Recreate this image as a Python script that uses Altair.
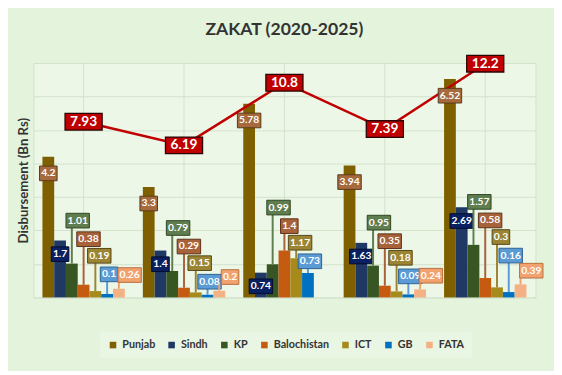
import altair as alt
import pandas as pd

# ---------------- data ----------------
years = ["2020-21", "2021-22", "2022-23", "2023-24", "2024-25"]
series = ["Punjab", "Sindh", "KP", "Balochistan", "ICT", "GB", "FATA"]
punjab = [4.2, 3.3, 5.78, 3.94, 6.52]
sindh = [1.7, 1.4, 0.74, 1.63, 2.69]
kp = [1.01, 0.79, 0.99, 0.95, 1.57]
balochistan = [0.38, 0.29, 1.4, 0.35, 0.58]
ict = [0.19, 0.15, 1.17, 0.18, 0.3]
gb = [0.1, 0.08, 0.73, 0.09, 0.16]
fata = [0.26, 0.2, None, 0.24, 0.39]
total = [7.93, 6.19, 10.8, 7.39, 12.2]

# ---------------- styles ----------------
FONT = "Lato"
GRID = "#d3e2cc"
bar_colors = ["#7f6000", "#203864", "#375623", "#c55a11", "#a68b1c", "#0070c0", "#f4b183"]
box_fill = ["#a66a3d", "#0b2060", "#5f7d4f", "#a8623a", "#9c8532", "#5b9bd5", "#f2a26e"]
box_stroke = ["#5a3a1c", "#020c2e", "#2f4523", "#5c3118", "#554719", "#2e6190", "#b8703e"]
# in-bar labels: offset below own bar top
inside_style = {"Punjab": 17, "Sindh": 14}
# callout labels: (offset, x shift, anchored to tallest small bar of the year?)
callout_style = {
    "KP": (-44, 6, True), "Balochistan": (-25, 5, True), "ICT": (-8, 4, True),
    "GB": (11, 2, True), "FATA": (-14, 11, False),
}
small = list(callout_style.keys())

cols = [punjab, sindh, kp, balochistan, ict, gb, fata]
rows = []
for s, vals in zip(series, cols):
    for y, v in zip(years, vals):
        if v is not None:
            rows.append({"year": y, "series": s, "v": v})
df = pd.DataFrame(rows)
tot_df = pd.DataFrame({"year": years, "t": total})
grid_df = pd.DataFrame({"year": years})

UNIT = 8.0
BOX_SIZE = (2 * UNIT) ** 2


def box_path(w, h, unit, shift=0.0):
    x0 = (shift - w / 2) / unit
    x1 = (shift + w / 2) / unit
    y0 = -h / 2 / unit
    y1 = h / 2 / unit
    return f"M{x0:.3f},{y0:.3f}H{x1:.3f}V{y1:.3f}H{x0:.3f}Z"


xscale = alt.Scale(domain=years, paddingInner=0.18, paddingOuter=0.09)
X = alt.X(
    "year:N", sort=years, scale=xscale,
    axis=alt.Axis(
        title=None, labelAngle=0, labelFont=FONT, labelFontSize=12, labelFontWeight="bold",
        labelColor="#333333", labelPadding=16, ticks=False, domainColor="#3a3a3a",
        domainWidth=2, grid=True, gridColor=GRID, tickBand="extent",
    ),
)
Xn = alt.X("year:N", sort=years, scale=xscale, axis=None)
XO = alt.XOffset("series:N", sort=series, scale=alt.Scale(domain=series))
yscale = alt.Scale(domain=[0, 7], nice=False, zero=True)

# vertical grid lines at group centres
center_grid = alt.Chart(grid_df).mark_rule(color=GRID, strokeWidth=1).encode(x=Xn)

bars = alt.Chart(df).mark_bar().encode(
    x=X,
    xOffset=XO,
    y=alt.Y(
        "v:Q", scale=yscale,
        axis=alt.Axis(
            title="Disbursement (Bn Rs)", titleFont=FONT, titleFontSize=13.5,
            titleFontWeight="bold", titleColor="#333333", titlePadding=3,
            labels=False, ticks=False, domain=False, grid=True, gridColor=GRID,
            values=[0, 1, 2, 3, 4, 5, 6, 7],
        ),
    ),
    color=alt.Color(
        "series:N", sort=series, scale=alt.Scale(domain=series, range=bar_colors),
        legend=alt.Legend(
            title=None, orient="none", direction="horizontal", legendX=68, legendY=275,
            symbolType="square", symbolSize=45, symbolStrokeWidth=0,
            labelFont=FONT, labelFontSize=11, labelFontWeight="bold", labelColor="#333333",
            columnPadding=11, labelOffset=4, padding=8, fillColor="#e9f6e3",
        ),
    ),
)

small_expr = "indexof(" + str(small).replace(" ", "") + ", datum.series) >= 0 ? datum.v : 0"

label_layers = []
for i, s in enumerate(series):
    base = (
        alt.Chart(df)
        .transform_calculate(lab="format(datum.v, '.3~g')", sm=small_expr)
        .transform_joinaggregate(anchor="max(sm)", groupby=["year"])
        .transform_filter(alt.datum.series == s)
    )
    if s in inside_style:
        dy, shift, yfield = inside_style[s], 0, "v:Q"
    else:
        dy, shift, anchored = callout_style[s]
        yfield = "anchor:Q" if anchored else "v:Q"
        label_layers.append(
            base.mark_rule(color=box_fill[i], strokeWidth=2, y2Offset=dy + 7).encode(
                x=Xn, xOffset=XO,
                y=alt.Y("v:Q", scale=yscale, axis=None),
                y2=alt.Y2(yfield.split(":")[0]),
            )
        )
    enc = dict(x=Xn, xOffset=XO, y=alt.Y(yfield, scale=yscale, axis=None))
    label_layers.append(
        base.mark_point(
            filled=True, opacity=1, fill=box_fill[i], stroke=box_stroke[i], strokeWidth=1,
            size=BOX_SIZE, yOffset=dy,
        ).encode(
            shape=alt.condition(
                "length(datum.lab) > 3",
                alt.value(box_path(24, 15, UNIT, shift)),
                alt.value(box_path(18, 15, UNIT, shift)),
            ),
            **enc,
        )
    )
    label_layers.append(
        base.mark_text(
            font=FONT, fontSize=10.5, fontWeight="bold", color="white", dy=dy, dx=shift,
        ).encode(text=alt.Text("lab:N"), **enc)
    )

y2scale = alt.Scale(domain=[-5, 12.25], nice=False, zero=False)
Y2 = alt.Y("t:Q", scale=y2scale, axis=None)
line = alt.Chart(tot_df).mark_line(color="#c00000", strokeWidth=2.5).encode(x=Xn, y=Y2)
LUNIT = 8.5
line_box = alt.Chart(tot_df).mark_point(
    filled=True, opacity=1, fill="#c00000", stroke="#2a0505", strokeWidth=1.3,
    size=(2 * LUNIT) ** 2, shape=box_path(38, 17, LUNIT),
).encode(x=Xn, y=Y2)
line_text = alt.Chart(tot_df).mark_text(
    font=FONT, fontSize=14, fontWeight="bold", color="white",
).encode(x=Xn, y=Y2, text=alt.Text("t:Q", format=".3~g"))

chart = alt.layer(
    center_grid, bars, line, *label_layers, line_box, line_text
).resolve_scale(y="independent").properties(
    width=514, height=240,
    title=alt.TitleParams(
        "ZAKAT (2020-2025)", font=FONT, fontSize=18, fontWeight="bold", color="#333333",
        offset=14, anchor="middle",
    ),
    padding={"left": 9, "top": 9, "right": 9, "bottom": 9},
    background="#e3f3dc",
).configure_view(
    stroke=GRID,
    fill="#ecf7e7",
)

chart.save("out.html", embed_options={"renderer": "svg", "actions": False})
